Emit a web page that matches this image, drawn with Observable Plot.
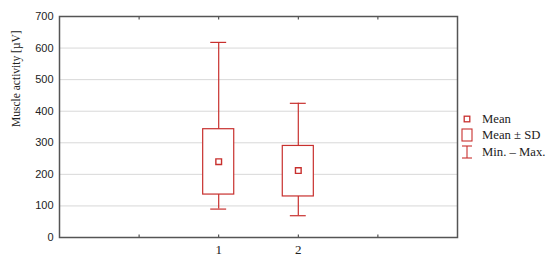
<!DOCTYPE html>
<html><head><meta charset="utf-8">
<script src="https://cdn.jsdelivr.net/npm/d3@7"></script>
<script src="https://cdn.jsdelivr.net/npm/@observablehq/plot@0.6"></script>
<style>
body{margin:0;background:#fff;}
#wrap{position:relative;width:550px;height:263px;}
#legend{position:absolute;left:0;top:0;}
</style></head>
<body><div id="wrap"></div>
<script>
const categories = [1, 2];
const means = [240, 212];
const sdLow = [136, 130];
const sdHigh = [343, 290];
const mins = [90, 69];
const maxs = [618, 425];
const yTicks = [0, 100, 200, 300, 400, 500, 600, 700];
const xLabelTicks = [1, 2];
const xMarkTicks = [0, 1, 2, 3];
const yTitle = "Muscle activity [µV]";
const legendItems = ["Mean", "Mean ± SD", "Min. – Max."];

const data = categories.map((c, i) => ({cat: c, mean: means[i], lo: sdLow[i], hi: sdHigh[i], min: mins[i], max: maxs[i]}));
const red = "#c8302e";
const serif = "Liberation Serif, Times New Roman, serif";
const halfBox = 0.195, halfCap = 0.1;

const chart = Plot.plot({
  width: 550, height: 263,
  marginLeft: 59, marginRight: 93, marginTop: 16, marginBottom: 26,
  style: {fontFamily: "Liberation Sans, Arial, sans-serif", fontSize: "11px", color: "#222", background: "#fff"},
  x: {type: "linear", domain: [-1, 4]},
  y: {domain: [0, 700]},
  marks: [
    Plot.gridY(yTicks.filter(t => t > 0 && t < 700), {stroke: "#d8d8d8", strokeOpacity: 1, strokeWidth: 1}),
    Plot.axisY({ticks: yTicks, tickSize: 0, tickPadding: 6, label: null, fontSize: 11}),
    Plot.axisX({ticks: xMarkTicks, tickSize: -2.5, tickFormat: () => "", label: null, stroke: "#333"}),
    Plot.axisX({anchor: "top", ticks: xMarkTicks, tickSize: -2.5, tickFormat: () => "", label: null, stroke: "#333"}),
    Plot.axisX({ticks: xLabelTicks, tickSize: 0, tickPadding: 7, tickFormat: d => String(d), label: null, fontFamily: serif, fontSize: 13}),
    Plot.text([yTitle], {frameAnchor: "left", dx: -43, rotate: -90, fontFamily: serif, fontSize: 11.5, fill: "#222"}),
    Plot.ruleX(data, {x: "cat", y1: "hi", y2: "max", stroke: red, strokeWidth: 1.2}),
    Plot.ruleX(data, {x: "cat", y1: "lo", y2: "min", stroke: red, strokeWidth: 1.2}),
    Plot.ruleY(data, {y: "max", x1: d => d.cat - halfCap, x2: d => d.cat + halfCap, stroke: red, strokeWidth: 1.2}),
    Plot.ruleY(data, {y: "min", x1: d => d.cat - halfCap, x2: d => d.cat + halfCap, stroke: red, strokeWidth: 1.2}),
    Plot.rect(data, {x1: d => d.cat - halfBox, x2: d => d.cat + halfBox, y1: "lo", y2: "hi", fill: "white", stroke: red, strokeWidth: 1.2}),
    Plot.dot(data, {x: "cat", y: "mean", symbol: "square", r: 3.2, fill: "white", stroke: red, strokeWidth: 1.4}),
    Plot.frame({stroke: "#555", strokeWidth: 1.5})
  ]
});
const wrap = document.getElementById("wrap");
wrap.appendChild(chart);

// legend
const lg = d3.select(wrap).append("svg").attr("id", "legend").attr("width", 550).attr("height", 263);
const rows = [119, 135, 152];
const sx = 467, tx = 482;
lg.append("rect").attr("x", sx - 2.8).attr("y", rows[0] - 2.8).attr("width", 5.6).attr("height", 5.6).attr("fill", "white").attr("stroke", red).attr("stroke-width", 1.3);
lg.append("rect").attr("x", sx - 5).attr("y", rows[1] - 6).attr("width", 10).attr("height", 12).attr("fill", "white").attr("stroke", red).attr("stroke-width", 1.1);
lg.append("line").attr("x1", sx).attr("x2", sx).attr("y1", rows[2] - 6).attr("y2", rows[2] + 6).attr("stroke", red).attr("stroke-width", 1.1);
lg.append("line").attr("x1", sx - 5).attr("x2", sx + 5).attr("y1", rows[2] - 6).attr("y2", rows[2] - 6).attr("stroke", red).attr("stroke-width", 1.1);
lg.append("line").attr("x1", sx - 5).attr("x2", sx + 5).attr("y1", rows[2] + 6).attr("y2", rows[2] + 6).attr("stroke", red).attr("stroke-width", 1.1);
legendItems.forEach((t, i) => {
  lg.append("text").attr("x", tx).attr("y", rows[i]).attr("dy", "0.35em")
    .attr("font-family", serif).attr("font-size", 12.7).attr("fill", "#222").text(t);
});
</script></body></html>
